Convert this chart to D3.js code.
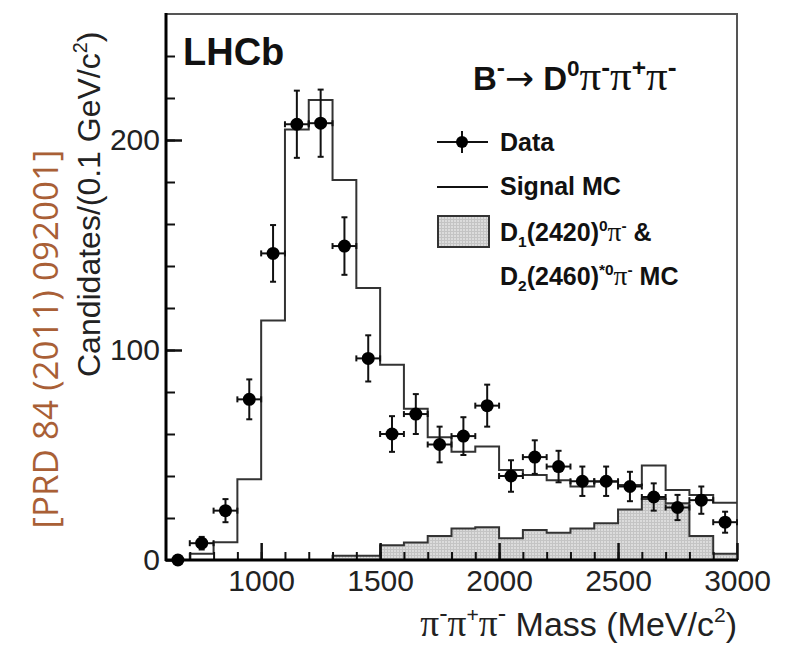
<!DOCTYPE html>
<html>
<head>
<meta charset="utf-8">
<script src="https://cdn.jsdelivr.net/npm/d3@7"></script>
<style>
  body { margin: 0; background: #fff; }
  svg text { font-family: "Liberation Sans", Arial, sans-serif; fill: #111; }
</style>
</head>
<body>
<svg id="plot" width="788" height="647"></svg>
<script>
// bin centres of the data points (MeV/c^2), 100 MeV bins
const massCenters = [650, 750, 850, 950, 1050, 1150, 1250, 1350, 1450, 1550, 1650, 1750,
                     1850, 1950, 2050, 2150, 2250, 2350, 2450, 2550, 2650, 2750, 2850, 2950];
const dataCounts  = [0, 8, 23.5, 76.5, 146, 207.5, 208, 149.5, 96, 60, 69.5, 55,
                     59, 73.5, 40, 49, 44.5, 37.5, 37.5, 35, 30, 25, 28.5, 18];
const dataErrors  = [0, 3, 5.5, 9.5, 13.5, 16, 16, 13.7, 11, 8.5, 9.5, 8.5,
                     9, 10, 7.5, 8, 7.5, 7, 7, 7, 6.5, 6, 6.5, 5];

// histogram bins (low edges)
const binLow      = [600, 700, 800, 900, 1000, 1100, 1200, 1300, 1400, 1500, 1600, 1700,
                     1800, 1900, 2000, 2100, 2200, 2300, 2400, 2500, 2600, 2700, 2800, 2900];
const signalMC    = [0, 3, 8.4, 38.5, 114, 205, 219, 181, 129.5, 93, 72, 58.5,
                     51.6, 54, 42.9, 40.5, 38, 35, 37.3, 35.7, 45, 33.3, 31, 27.3];
const d1d2MC      = [0, 0, 0, 0, 0, 0, 0, 2, 2, 7, 8.3, 11.4,
                     15, 15.6, 10.3, 14.3, 13, 15, 17.5, 24, 29, 27, 11.4, 3];

const xMajorTicks = [1000, 1500, 2000, 2500, 3000];
const yMajorTicks = [0, 100, 200];

const svg = d3.select("#plot");

const x = d3.scaleLinear().domain([600, 3000]).range([166, 737]);
const y = d3.scaleLinear().domain([0, 260]).range([560, 14]);

// fill pattern for the D1/D2 MC histogram
const defs = svg.append("defs");
const pat = defs.append("pattern")
    .attr("id", "grid")
    .attr("width", 3).attr("height", 3)
    .attr("patternUnits", "userSpaceOnUse");
pat.append("rect").attr("width", 3).attr("height", 3).attr("fill", "#dcdcdc");
pat.append("path").attr("d", "M0,0.5H3M0.5,0V3").attr("stroke", "#c4c4c4").attr("stroke-width", 1);

// frame
svg.append("rect")
    .attr("x", x(600)).attr("y", y(260))
    .attr("width", x(3000) - x(600)).attr("height", y(0) - y(260))
    .attr("fill", "none").attr("stroke", "#555").attr("stroke-width", 2);

//---------------histograms------------------------
const bgPts = binLow.map((b, i) => [b, d1d2MC[i]]);
bgPts.push([3000, d1d2MC[d1d2MC.length - 1]]);
const sigPts = binLow.map((b, i) => [b, signalMC[i]]);
sigPts.push([3000, signalMC[signalMC.length - 1]]);

const area = d3.area()
    .x(d => x(d[0])).y0(y(0)).y1(d => y(d[1]))
    .curve(d3.curveStepAfter);
const line = d3.line()
    .x(d => x(d[0])).y(d => y(d[1]))
    .curve(d3.curveStepAfter);

svg.append("path").datum(bgPts)
    .attr("d", area).attr("fill", "url(#grid)");
svg.append("path").datum(bgPts)
    .attr("d", line).attr("fill", "none").attr("stroke", "#333").attr("stroke-width", 2);
svg.append("path").datum(sigPts)
    .attr("d", line).attr("fill", "none").attr("stroke", "#333").attr("stroke-width", 2);

//---------------axes------------------------
const xMinor = d3.range(700, 3000, 100);
const yMinor = d3.range(20, 260, 20);

svg.append("g")
    .attr("transform", "translate(0," + y(0) + ")")
    .call(d3.axisBottom(x).tickValues(xMinor).tickSize(-8).tickSizeOuter(0).tickFormat(""))
    .call(g => g.select(".domain").remove())
    .call(g => g.selectAll("line").attr("stroke", "#111").attr("stroke-width", 2));
svg.append("g")
    .attr("transform", "translate(0," + y(0) + ")")
    .call(d3.axisBottom(x).tickValues(xMajorTicks).tickSize(-17).tickSizeOuter(0)
            .tickPadding(10).tickFormat(d3.format("d")))
    .call(g => g.select(".domain").remove())
    .call(g => g.selectAll("line").attr("stroke", "#111").attr("stroke-width", 2.5))
    .call(g => g.selectAll("text").style("font-size", "30px").style("fill", "#222"));

svg.append("g")
    .attr("transform", "translate(" + x(600) + ",0)")
    .call(d3.axisLeft(y).tickValues(yMinor).tickSize(-9).tickSizeOuter(0).tickFormat(""))
    .call(g => g.select(".domain").remove())
    .call(g => g.selectAll("line").attr("stroke", "#111").attr("stroke-width", 2));
svg.append("g")
    .attr("transform", "translate(" + x(600) + ",0)")
    .call(d3.axisLeft(y).tickValues(yMajorTicks).tickSize(-16).tickSizeOuter(0)
            .tickPadding(6).tickFormat(d3.format("d")))
    .call(g => g.select(".domain").remove())
    .call(g => g.selectAll("line").attr("stroke", "#111").attr("stroke-width", 2.5))
    .call(g => g.selectAll("text").style("font-size", "30px").style("fill", "#222"));

// axis lines
svg.append("line")
    .attr("x1", x(600) - 1).attr("x2", x(3000) + 1).attr("y1", y(0)).attr("y2", y(0))
    .attr("stroke", "#000").attr("stroke-width", 3);
svg.append("line")
    .attr("x1", x(600)).attr("x2", x(600)).attr("y1", y(0) + 1).attr("y2", y(260) - 1)
    .attr("stroke", "#000").attr("stroke-width", 3);

//---------------data points------------------------
const pts = svg.append("g").attr("id", "data");
massCenters.forEach((c, i) => {
  const v = dataCounts[i], e = dataErrors[i];
  if (e > 0) {
    const g = pts.append("g").attr("stroke", "#111").attr("stroke-width", 2);
    g.append("line").attr("x1", x(c)).attr("x2", x(c)).attr("y1", y(v - e)).attr("y2", y(v + e));
    g.append("line").attr("x1", x(c) - 3).attr("x2", x(c) + 3).attr("y1", y(v - e)).attr("y2", y(v - e));
    g.append("line").attr("x1", x(c) - 3).attr("x2", x(c) + 3).attr("y1", y(v + e)).attr("y2", y(v + e));
    g.append("line").attr("x1", x(c - 50)).attr("x2", x(c + 50)).attr("y1", y(v)).attr("y2", y(v));
    g.append("line").attr("x1", x(c - 50)).attr("x2", x(c - 50)).attr("y1", y(v) - 3).attr("y2", y(v) + 3);
    g.append("line").attr("x1", x(c + 50)).attr("x2", x(c + 50)).attr("y1", y(v) - 3).attr("y2", y(v) + 3);
  }
  pts.append("circle").attr("cx", x(c)).attr("cy", y(v)).attr("r", 6.5).attr("fill", "#000");
});

//---------------text------------------------
const PI_FONT = "'Liberation Serif', 'DejaVu Serif', serif";

// parts: {t, sup, sub, w, f, k (size factor)}
function richText(sel, parts, size) {
  let shift = 0;
  parts.forEach(p => {
    const s = p.sup ? -0.42 * size : p.sub ? 0.25 * size : 0;
    let fs = (p.sup || p.sub) ? size * 0.62 : size;
    if (p.k) fs *= p.k;
    sel.append("tspan")
      .attr("dy", s - shift)
      .style("font-size", fs + "px")
      .style("font-weight", p.w || null)
      .style("font-family", p.f || null)
      .text(p.t);
    shift = s;
  });
}

svg.append("text")
    .attr("x", 183).attr("y", 65)
    .style("font-size", "38px").style("font-weight", "bold")
    .text("LHCb");

const title = svg.append("text")
    .attr("x", 473).attr("y", 90)
    .style("font-size", "33px").style("font-weight", "bold");
richText(title, [
  {t: "B"}, {t: "-", sup: true, k: 1.2},
  {t: "\u2192", w: "normal", f: "'DejaVu Sans', sans-serif", k: 1.05}, {t: " D"}, {t: "0", sup: true, k: 1.1},
  {t: "\u03c0", f: PI_FONT, w: "normal", k: 1.3}, {t: "-", sup: true, k: 1.3},
  {t: "\u03c0", f: PI_FONT, w: "normal", k: 1.3}, {t: "+", sup: true, k: 1.2},
  {t: "\u03c0", f: PI_FONT, w: "normal", k: 1.3}, {t: "-", sup: true, k: 1.3}
], 33);

//---------------legend------------------------
const leg = svg.append("g").attr("id", "legend");
leg.append("line").attr("x1", 437).attr("x2", 488).attr("y1", 142).attr("y2", 142)
    .attr("stroke", "#111").attr("stroke-width", 2);
leg.append("line").attr("x1", 462).attr("x2", 462).attr("y1", 131).attr("y2", 153)
    .attr("stroke", "#111").attr("stroke-width", 2);
leg.append("circle").attr("cx", 462).attr("cy", 142).attr("r", 6).attr("fill", "#000");
leg.append("line").attr("x1", 437).attr("x2", 488).attr("y1", 187).attr("y2", 187)
    .attr("stroke", "#111").attr("stroke-width", 2);
leg.append("rect").attr("x", 438).attr("y", 216).attr("width", 51).attr("height", 31)
    .attr("fill", "url(#grid)").attr("stroke", "#333").attr("stroke-width", 2);

const legFs = 25;
leg.append("text").attr("x", 500).attr("y", 151)
    .style("font-size", legFs + "px").style("font-weight", "bold").text("Data");
leg.append("text").attr("x", 500).attr("y", 195)
    .style("font-size", legFs + "px").style("font-weight", "bold").text("Signal MC");
const l3 = leg.append("text").attr("x", 500).attr("y", 241)
    .style("font-size", legFs + "px").style("font-weight", "bold");
richText(l3, [
  {t: "D"}, {t: "1", sub: true}, {t: "(2420)"}, {t: "0", sup: true},
  {t: "\u03c0", f: PI_FONT, w: "normal", k: 1.1}, {t: "-", sup: true}, {t: " &"}
], legFs);
const l4 = leg.append("text").attr("x", 500).attr("y", 285)
    .style("font-size", legFs + "px").style("font-weight", "bold");
richText(l4, [
  {t: "D"}, {t: "2", sub: true}, {t: "(2460)"}, {t: "*0", sup: true},
  {t: "\u03c0", f: PI_FONT, w: "normal", k: 1.1}, {t: "-", sup: true}, {t: " MC"}
], legFs);

//---------------axis titles------------------------
const xTitle = svg.append("text")
    .attr("x", 737).attr("y", 636)
    .attr("text-anchor", "end")
    .style("font-size", "34px").style("fill", "#222");
richText(xTitle, [
  {t: "\u03c0", f: PI_FONT, k: 1.1}, {t: "-", sup: true, k: 1.2},
  {t: "\u03c0", f: PI_FONT, k: 1.1}, {t: "+", sup: true},
  {t: "\u03c0", f: PI_FONT, k: 1.1}, {t: "-", sup: true, k: 1.2},
  {t: " Mass (MeV/c"}, {t: "2", sup: true}, {t: ")"}
], 34);

const yTitle = svg.append("text")
    .attr("transform", "translate(100,377) rotate(-90)")
    .style("font-size", "32px").style("fill", "#222");
richText(yTitle, [
  {t: "Candidates/(0.1 GeV/c"}, {t: "2", sup: true}, {t: ")"}
], 32);

svg.append("text")
    .attr("transform", "translate(58,339) rotate(-90)")
    .attr("text-anchor", "middle")
    .style("font-family", "'Open Sans', 'Noto Sans', sans-serif")
    .style("font-size", "35px")
    .style("font-weight", "500")
    .style("fill", "#a95f36")
    .text("[PRD 84 (2011) 092001]");
</script>
</body>
</html>
